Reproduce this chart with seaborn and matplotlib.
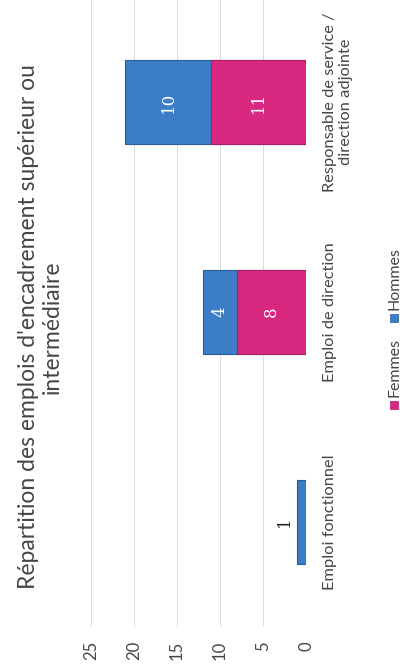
import matplotlib
matplotlib.use("Agg")
import matplotlib.pyplot as plt
from matplotlib.patches import Rectangle
import pandas as pd
import seaborn as sns

# Chart data
categories = ["Emploi fonctionnel", "Emploi de direction",
              "Responsable de service /\ndirection adjointe"]
femmes = [0, 8, 11]
hommes = [1, 4, 10]
value_ticks = [0, 5, 10, 15, 20, 25]
series_names = ["Femmes", "Hommes"]
title = "Répartition des emplois d'encadrement supérieur ou\nintermédiaire"

PINK = "#D8287F"
PINK_EDGE = "#A81E62"
BLUE = "#3C7DC8"
BLUE_EDGE = "#2A5C98"
TEXT = "#454545"

sns.set_theme(style="white")
plt.rcParams["font.family"] = ["Lato", "DejaVu Sans"]

df = pd.DataFrame({"categorie": categories, "Femmes": femmes, "Hommes": hommes})
df["cumul"] = df["Femmes"] + df["Hommes"]

W, H = 400, 671
fig = plt.figure(figsize=(W / 100, H / 100), dpi=100)
fig.patch.set_facecolor("white")
ax = fig.add_axes([91 / W, 1 - 627 / H, 215 / W, 630 / H])

# Stacked horizontal bars: Hommes stacked beyond Femmes
sns.barplot(data=df, y="categorie", x="cumul", order=categories, orient="h",
            color=BLUE, saturation=1, width=0.4, edgecolor=BLUE_EDGE,
            linewidth=0.8, ax=ax, errorbar=None)
sns.barplot(data=df, y="categorie", x="Femmes", order=categories, orient="h",
            color=PINK, saturation=1, width=0.4, edgecolor=PINK_EDGE,
            linewidth=0.8, ax=ax, errorbar=None)
for p in ax.patches:
    if p.get_width() == 0:
        p.set_visible(False)

ax.set_xlim(25, 0)
ax.set_ylim(-0.5, 2.5)
ax.set_xticks(value_ticks)
ax.set_xticklabels([str(v) for v in value_ticks], rotation=90, ha="center",
                   va="top", fontsize=12, color=TEXT)
ax.tick_params(axis="x", length=0, pad=10)
ax.yaxis.tick_right()
ax.set_yticks(range(len(categories)))
ax.set_yticklabels(categories, rotation=90, ha="left", va="center",
                   multialignment="center", fontsize=11.8, color=TEXT,
                   linespacing=1.25)
ax.tick_params(axis="y", length=0, pad=12)
ax.set_xlabel("")
ax.set_ylabel("")
for s in ax.spines.values():
    s.set_visible(False)
ax.xaxis.grid(True, color="#dadada", linewidth=0.7)
ax.yaxis.grid(False)
ax.set_axisbelow(True)

# Value labels
label_font = ["DejaVu Serif"]
for i, (f, h) in enumerate(zip(femmes, hommes)):
    if f > 0:
        ax.text(f / 2, i, str(f), rotation=90, ha="center", va="center",
                color="white", fontsize=12, family=label_font)
    if h >= 2:
        ax.text(f + h / 2, i, str(h), rotation=90, ha="center", va="center",
                color="white", fontsize=12, family=label_font)
    elif h > 0:
        ax.annotate(str(h), xy=(f + h, i), xytext=(-3, 0),
                    textcoords="offset points", rotation=90, ha="right",
                    va="center", color="#222222", fontsize=12,
                    family=label_font)

# Title (reads bottom to top)
fig.text(40 / W, 1 - 327 / H, title, rotation=90, ha="center", va="center",
         fontsize=16.5, color=TEXT, multialignment="center", linespacing=1.15)

# Legend, drawn along the right edge
sq = 8
for name, color, edge, ytext, ybox in [("Femmes", PINK, PINK_EDGE, 397, 405),
                                       ("Hommes", BLUE, BLUE_EDGE, 310, 318)]:
    fig.text(394 / W, 1 - ytext / H, name, rotation=90, ha="center",
             va="bottom", fontsize=11.5, color=TEXT)
    fig.patches.append(Rectangle(((394 - sq / 2) / W, 1 - (ybox + sq / 2) / H),
                                 sq / W, sq / H, transform=fig.transFigure,
                                 facecolor=color, edgecolor=edge,
                                 linewidth=0.5))

fig.savefig("out.png", dpi=100)
